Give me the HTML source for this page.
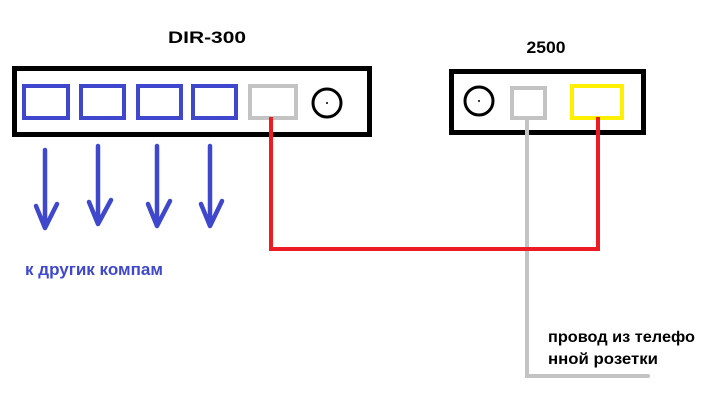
<!DOCTYPE html>
<html><head><meta charset="utf-8"><style>
body{margin:0;background:#fff;width:701px;height:400px;overflow:hidden}
text{font-family:"Liberation Sans","DejaVu Sans",sans-serif;font-weight:bold}
</style></head><body>
<svg width="701" height="400" viewBox="0 0 701 400" xmlns="http://www.w3.org/2000/svg">
<rect x="14.5" y="68.5" width="355" height="66" fill="none" stroke="#000" stroke-width="5"/>
<g fill="none" stroke="#3f48cc" stroke-width="4">
<rect x="24" y="86" width="44" height="32"/>
<rect x="81" y="86" width="43" height="32"/>
<rect x="138" y="86" width="43" height="32"/>
<rect x="193" y="86" width="43" height="32"/>
</g>
<rect x="250" y="86" width="46" height="32" fill="none" stroke="#c3c3c3" stroke-width="4"/>
<circle cx="327" cy="103" r="14" fill="none" stroke="#000" stroke-width="3"/>
<circle cx="327" cy="103" r="1" fill="#000"/>
<text x="207" y="43" font-size="17" text-anchor="middle" textLength="78" lengthAdjust="spacingAndGlyphs">DIR-300</text>
<rect x="451.5" y="71.5" width="192" height="61" fill="none" stroke="#000" stroke-width="5"/>
<circle cx="479" cy="101" r="14" fill="none" stroke="#000" stroke-width="3"/>
<circle cx="479" cy="101" r="1" fill="#000"/>
<rect x="512" y="88" width="33" height="30" fill="none" stroke="#c3c3c3" stroke-width="4"/>
<rect x="572" y="86" width="50" height="32" fill="none" stroke="#ffef00" stroke-width="4"/>
<text x="546" y="53" font-size="17" text-anchor="middle" textLength="39" lengthAdjust="spacingAndGlyphs">2500</text>
<polyline points="527,118 527,376 648,376" fill="none" stroke="#c3c3c3" stroke-width="4" stroke-linecap="round"/>
<polyline points="271,117 271,249 598,249 598,117" fill="none" stroke="#ed1c24" stroke-width="4"/>
<g fill="none" stroke="#3f48cc" stroke-width="4.5" stroke-linecap="round" stroke-linejoin="round">
<path d="M45,150 L45,228 M36,206 L45,228 L57,204"/>
<path d="M98,146 L98,224 M89,202 L98,224 L111,200"/>
<path d="M157,146 L157,226 M148,204 L157,226 L170,201"/>
<path d="M210,146 L210,226 M201,204 L210,226 L222,201"/>
</g>
<text x="25" y="275" font-size="17" fill="#3f48cc" textLength="138" lengthAdjust="spacingAndGlyphs">к другик компам</text>
<text x="548" y="342" font-size="16" fill="#000" textLength="147" lengthAdjust="spacingAndGlyphs">провод из телефо</text>
<text x="548" y="364" font-size="16" fill="#000" textLength="110" lengthAdjust="spacingAndGlyphs">нной розетки</text>
</svg>
</body></html>
